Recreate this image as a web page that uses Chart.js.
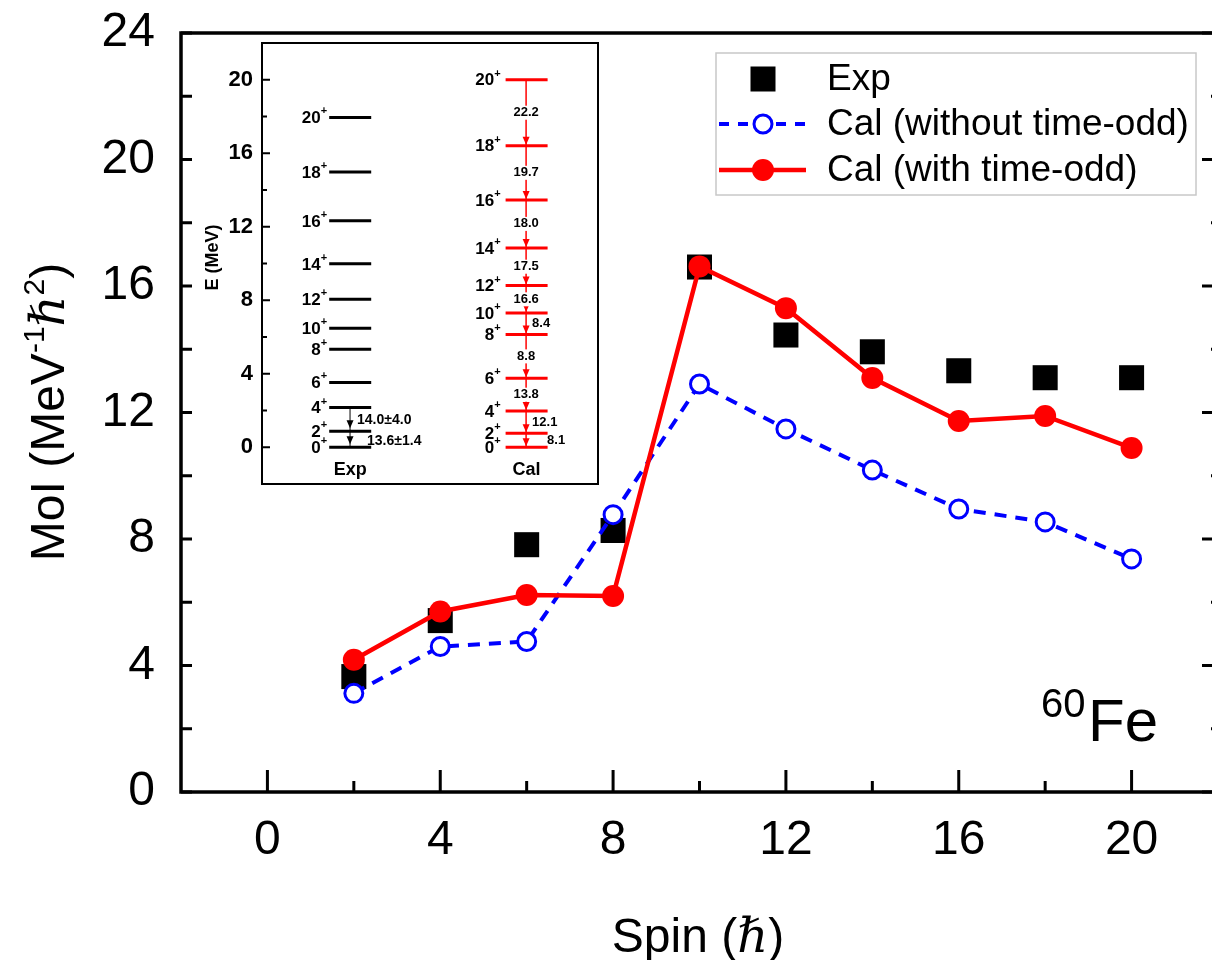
<!DOCTYPE html>
<html>
<head>
<meta charset="utf-8">
<script src="https://cdn.jsdelivr.net/npm/chart.js@4.4.0/dist/chart.umd.min.js"></script>
<style>
  html, body { margin: 0; padding: 0; background: #fff; }
  #wrap { position: relative; width: 1212px; height: 960px; overflow: hidden; }
  #main { position: absolute; left: 0; top: 0; }
  #inset { position: absolute; left: 180px; top: 30px; }
</style>
</head>
<body>
<div id="wrap">
  <canvas id="main" width="1230" height="960"></canvas>
  <canvas id="inset" width="430" height="470"></canvas>
</div>
<script>
// main chart data
var spins = [2, 4, 6, 8, 10, 12, 14, 16, 18, 20];
var expMoI = [3.65, 5.42, 7.82, 8.27, 16.6, 14.45, 13.92, 13.32, 13.1, 13.1];
var calWithout = [3.12, 4.6, 4.76, 8.77, 12.9, 11.48, 10.18, 8.95, 8.54, 7.37];
var calWith = [4.18, 5.71, 6.23, 6.2, 16.62, 15.3, 13.09, 11.73, 11.89, 10.88];
var xTicks = [0, 4, 8, 12, 16, 20];
var yTicks = [0, 4, 8, 12, 16, 20, 24];

// inset level scheme data (E in MeV)
var levelSpins = [0, 2, 4, 6, 8, 10, 12, 14, 16, 18, 20];
var expLevels = [0, 0.87, 2.16, 3.53, 5.34, 6.48, 8.06, 9.98, 12.32, 14.98, 17.95];
var calLevels = [0, 0.76, 1.97, 3.75, 6.14, 7.3, 8.8, 10.85, 13.46, 16.41, 20.0];
// transition labels, from 2+->0+ upwards
var calBE2 = ['8.1', '12.1', '13.8', '8.8', '8.4', '16.6', '17.5', '18.0', '19.7', '22.2'];
var expBE2 = ['13.6\u00b11.4', '14.0\u00b14.0'];
var insetTicks = [0, 4, 8, 12, 16, 20];

var FONT = '"Liberation Sans", Arial, sans-serif';

function pts(ys) {
  return spins.map(function(s, i) { return { x: s, y: ys[i] }; });
}

// draws frame, inward ticks, legend, titles
var mainDeco = {
  id: 'mainDeco',
  afterDraw: function(chart) {
    var ctx = chart.ctx, a = chart.chartArea;
    var xs = chart.scales.x, ys = chart.scales.y;
    ctx.save();
    ctx.strokeStyle = '#000';
    ctx.lineWidth = 3.5;
    ctx.strokeRect(a.left, a.top, a.right - a.left, a.bottom - a.top);

    ctx.lineWidth = 3;
    ctx.beginPath();
    for (var v = 0; v <= 20; v += 2) {
      var px = xs.getPixelForValue(v);
      var len = (v % 4 === 0) ? 22 : 11;
      ctx.moveTo(px, a.bottom); ctx.lineTo(px, a.bottom - len);
    }
    for (var w = 0; w <= 24; w += 2) {
      var py = ys.getPixelForValue(w);
      ctx.moveTo(a.left, py); ctx.lineTo(a.left + 11, py);
      var rl = (w % 4 === 0) ? 16 : 7;
      ctx.moveTo(a.right, py); ctx.lineTo(a.right - rl, py);
    }
    ctx.stroke();

    // legend
    ctx.lineWidth = 1.5;
    ctx.strokeStyle = '#c8c8c8';
    ctx.strokeRect(716, 53, 480, 142);
    var rows = [79, 124, 170];
    var mx = 763;
    ctx.fillStyle = '#000';
    ctx.fillRect(mx - 12.5, rows[0] - 12.5, 25, 25);

    ctx.strokeStyle = '#0000ff';
    ctx.lineWidth = 4;
    ctx.setLineDash([10, 9]);
    ctx.beginPath(); ctx.moveTo(719, rows[1]); ctx.lineTo(806, rows[1]); ctx.stroke();
    ctx.setLineDash([]);
    ctx.beginPath(); ctx.arc(mx, rows[1], 9, 0, Math.PI * 2);
    ctx.fillStyle = '#fff'; ctx.fill();
    ctx.lineWidth = 3; ctx.stroke();

    ctx.strokeStyle = '#ff0000';
    ctx.lineWidth = 4.5;
    ctx.beginPath(); ctx.moveTo(719, rows[2]); ctx.lineTo(806, rows[2]); ctx.stroke();
    ctx.beginPath(); ctx.arc(mx, rows[2], 11, 0, Math.PI * 2);
    ctx.fillStyle = '#ff0000'; ctx.fill();

    ctx.fillStyle = '#000';
    ctx.font = '37px ' + FONT;
    ctx.textAlign = 'left';
    ctx.textBaseline = 'middle';
    chart.data.datasets.forEach(function(d, i) {
      ctx.fillText(d.label, 827, rows[i] + 1);
    });

    // 60Fe
    ctx.textBaseline = 'alphabetic';
    ctx.font = '40px ' + FONT;
    ctx.fillText('60', 1041, 717);
    ctx.font = '60px ' + FONT;
    ctx.fillText('Fe', 1088, 741);

    // x title
    ctx.font = '48px ' + FONT;
    var t1 = 'Spin (', t3 = ')';
    var w1 = ctx.measureText(t1).width, w3 = ctx.measureText(t3).width;
    ctx.font = 'italic 48px "DejaVu Serif", serif';
    var w2 = ctx.measureText('\u210f').width;
    var x0 = 698 - (w1 + w2 + w3) / 2;
    ctx.font = '48px ' + FONT;
    ctx.fillText(t1, x0, 952);
    ctx.font = 'italic 48px "DejaVu Serif", serif';
    ctx.fillText('\u210f', x0 + w1, 952);
    ctx.font = '48px ' + FONT;
    ctx.fillText(t3, x0 + w1 + w2, 952);

    // y title, rotated
    var parts = [
      ['MoI (MeV', '48px ' + FONT, 0],
      ['-1', '30px ' + FONT, -20],
      ['\u210f', 'italic 48px "DejaVu Serif", serif', 0],
      ['2', '30px ' + FONT, -20],
      [')', '48px ' + FONT, 0]
    ];
    var total = 0;
    parts.forEach(function(p) { ctx.font = p[1]; p.push(ctx.measureText(p[0]).width); total += p[3]; });
    ctx.translate(64, 412);
    ctx.rotate(-Math.PI / 2);
    var cx = -total / 2;
    parts.forEach(function(p) {
      ctx.font = p[1];
      ctx.fillText(p[0], cx, p[2]);
      cx += p[3];
    });
    ctx.restore();
  }
};

new Chart(document.getElementById('main'), {
  type: 'line',
  data: {
    datasets: [
      {
        label: 'Exp',
        data: pts(expMoI),
        showLine: false,
        pointStyle: 'rect',
        pointRadius: 17.7,
        pointBackgroundColor: '#000',
        pointBorderWidth: 0,
        order: 3
      },
      {
        label: 'Cal (without time-odd)',
        data: pts(calWithout),
        borderColor: '#0000ff',
        borderWidth: 4,
        borderDash: [12, 9],
        pointRadius: 9,
        pointBorderWidth: 3,
        pointBorderColor: '#0000ff',
        pointBackgroundColor: '#fff',
        order: 2
      },
      {
        label: 'Cal (with time-odd)',
        data: pts(calWith),
        borderColor: '#ff0000',
        borderWidth: 4.5,
        pointRadius: 11,
        pointBorderWidth: 0,
        pointBackgroundColor: '#ff0000',
        order: 1
      }
    ]
  },
  options: {
    responsive: false,
    animation: false,
    devicePixelRatio: 1,
    layout: { autoPadding: false, padding: { top: 33, right: 12, left: 0, bottom: 0 } },
    plugins: { legend: { display: false }, tooltip: { enabled: false } },
    scales: {
      x: {
        type: 'linear', min: -2, max: 22,
        afterBuildTicks: function(s) { s.ticks = xTicks.map(function(v) { return { value: v }; }); },
        afterFit: function(s) { s.height = 168; s.paddingLeft = 0; s.paddingRight = 0; },
        grid: { display: false, drawTicks: false },
        border: { display: false },
        ticks: { color: '#000', padding: 20, maxRotation: 0, font: { family: FONT, size: 48 } }
      },
      y: {
        type: 'linear', min: 0, max: 24,
        afterBuildTicks: function(s) { s.ticks = yTicks.map(function(v) { return { value: v }; }); },
        afterFit: function(s) { s.width = 181; s.paddingTop = 0; s.paddingBottom = 0; },
        grid: { display: false, drawTicks: false },
        border: { display: false },
        ticks: { color: '#000', padding: 26, font: { family: FONT, size: 48 } }
      }
    }
  },
  plugins: [mainDeco]
});

// ---------- inset ----------
var EXP_X0 = 2.0, EXP_X1 = 3.25, EXP_ARROW = 2.62;
var CAL_X0 = 7.25, CAL_X1 = 8.5, CAL_ARROW = 7.86;

function levelData(levels, x0, x1) {
  var out = [];
  levels.forEach(function(e) {
    out.push({ x: x0, y: e }, { x: x1, y: e }, { x: x1, y: null });
  });
  return out;
}

function spinLabel(ctx, spin, xr, y) {
  ctx.textAlign = 'right';
  ctx.textBaseline = 'middle';
  ctx.font = 'bold 11px ' + FONT;
  var pw = ctx.measureText('+').width;
  ctx.fillText('+', xr, y - 6);
  ctx.font = 'bold 17px ' + FONT;
  ctx.fillText(String(spin), xr - pw, y + 1);
}

function arrowHead(ctx, x, y, color) {
  ctx.fillStyle = color;
  ctx.beginPath();
  ctx.moveTo(x, y);
  ctx.lineTo(x - 3.5, y - 8);
  ctx.lineTo(x + 3.5, y - 8);
  ctx.closePath();
  ctx.fill();
}

var insetDeco = {
  id: 'insetDeco',
  beforeDraw: function(chart) {
    var ctx = chart.ctx, a = chart.chartArea;
    ctx.save();
    ctx.fillStyle = '#fff';
    ctx.fillRect(a.left, a.top, a.right - a.left, a.bottom - a.top);
    ctx.restore();
  },
  afterDraw: function(chart) {
    var ctx = chart.ctx, a = chart.chartArea;
    var xs = chart.scales.x, ys = chart.scales.y;
    ctx.save();
    ctx.strokeStyle = '#000';
    ctx.lineWidth = 2;
    ctx.strokeRect(a.left, a.top, a.right - a.left, a.bottom - a.top);
    ctx.beginPath();
    for (var v = 0; v <= 20; v += 2) {
      var py = ys.getPixelForValue(v);
      ctx.moveTo(a.left, py); ctx.lineTo(a.left + ((v % 4 === 0) ? 8 : 5), py);
    }
    ctx.stroke();

    ctx.fillStyle = '#000';
    ctx.save();
    ctx.translate(33, (a.top + a.bottom) / 2 - 6);
    ctx.rotate(-Math.PI / 2);
    ctx.font = 'bold 18px ' + FONT;
    ctx.textAlign = 'center';
    ctx.textBaseline = 'middle';
    ctx.fillText('E (MeV)', 0, 0);
    ctx.restore();

    // spin labels
    levelSpins.forEach(function(s, i) {
      ctx.fillStyle = '#000';
      spinLabel(ctx, s, xs.getPixelForValue(EXP_X0) - 2, ys.getPixelForValue(expLevels[i]));
      spinLabel(ctx, s, xs.getPixelForValue(CAL_X0) - 5, ys.getPixelForValue(calLevels[i]));
    });

    // Cal transitions
    var cx = xs.getPixelForValue(CAL_ARROW);
    ctx.strokeStyle = '#ff0000';
    ctx.lineWidth = 1.5;
    ctx.beginPath();
    ctx.moveTo(cx, ys.getPixelForValue(calLevels[calLevels.length - 1]));
    ctx.lineTo(cx, ys.getPixelForValue(calLevels[0]));
    ctx.stroke();
    for (var i = 0; i < calBE2.length; i++) {
      arrowHead(ctx, cx, ys.getPixelForValue(calLevels[i]) - 1, '#ff0000');
    }
    ctx.font = 'bold 13px ' + FONT;
    ctx.textBaseline = 'middle';
    for (var j = 0; j < calBE2.length; j++) {
      var gap = calLevels[j + 1] - calLevels[j];
      var my = ys.getPixelForValue((calLevels[j] + calLevels[j + 1]) / 2);
      var tw = ctx.measureText(calBE2[j]).width;
      if (gap > 1.3) {
        ctx.fillStyle = '#fff';
        ctx.fillRect(cx - tw / 2 - 1, my - 7, tw + 2, 14);
        ctx.fillStyle = '#000';
        ctx.textAlign = 'center';
        ctx.fillText(calBE2[j], cx, my);
      } else {
        ctx.fillStyle = '#000';
        ctx.textAlign = 'left';
        ctx.fillText(calBE2[j], cx + (gap < 0.9 ? 21 : 6), my);
      }
    }

    // Exp transitions
    var ex = xs.getPixelForValue(EXP_ARROW);
    ctx.strokeStyle = '#000';
    ctx.lineWidth = 1;
    ctx.beginPath();
    ctx.moveTo(ex, ys.getPixelForValue(expLevels[2]));
    ctx.lineTo(ex, ys.getPixelForValue(expLevels[0]));
    ctx.stroke();
    arrowHead(ctx, ex, ys.getPixelForValue(expLevels[1]) - 3, '#000');
    arrowHead(ctx, ex, ys.getPixelForValue(expLevels[0]) - 3, '#000');
    ctx.fillStyle = '#000';
    ctx.font = 'bold 14px ' + FONT;
    ctx.textAlign = 'left';
    ctx.fillText(expBE2[1], ex + 7, ys.getPixelForValue((expLevels[1] + expLevels[2]) / 2) + 1);
    ctx.fillText(expBE2[0], ex + 17, ys.getPixelForValue(expLevels[1] / 2) + 2);

    // scheme names
    ctx.font = 'bold 18px ' + FONT;
    ctx.textAlign = 'center';
    ctx.fillText('Exp', xs.getPixelForValue((EXP_X0 + EXP_X1) / 2), ys.getPixelForValue(-1.25));
    ctx.fillText('Cal', xs.getPixelForValue((CAL_X0 + CAL_X1) / 2), ys.getPixelForValue(-1.25));
    ctx.restore();
  }
};

new Chart(document.getElementById('inset'), {
  type: 'line',
  data: {
    datasets: [
      { label: 'Exp levels', data: levelData(expLevels, EXP_X0, EXP_X1), borderColor: '#000', borderWidth: 3, pointRadius: 0, spanGaps: false },
      { label: 'Cal levels', data: levelData(calLevels, CAL_X0, CAL_X1), borderColor: '#ff0000', borderWidth: 3, pointRadius: 0, spanGaps: false }
    ]
  },
  options: {
    responsive: false,
    animation: false,
    devicePixelRatio: 1,
    layout: { autoPadding: false, padding: { top: 13, right: 12, left: 0, bottom: 16 } },
    plugins: { legend: { display: false }, tooltip: { enabled: false } },
    scales: {
      x: { type: 'linear', min: 0, max: 10, display: false },
      y: {
        type: 'linear', min: -2, max: 22,
        afterBuildTicks: function(s) { s.ticks = insetTicks.map(function(v) { return { value: v }; }); },
        afterFit: function(s) { s.width = 82; s.paddingTop = 0; s.paddingBottom = 0; },
        grid: { display: false, drawTicks: false },
        border: { display: false },
        ticks: { color: '#000', padding: 9, font: { family: FONT, size: 22, weight: 'bold' } }
      }
    }
  },
  plugins: [insetDeco]
});
</script>
</body>
</html>
